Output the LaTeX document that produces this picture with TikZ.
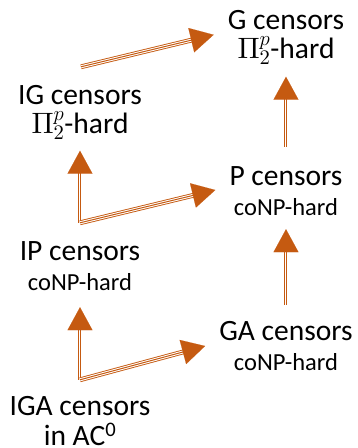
\documentclass[tikz,border=0pt]{standalone}
\usepackage[no-math]{fontspec}
\setmainfont{Carlito}
% let the upright math letters (\Pi) scale to any size
\DeclareFontShape{OT1}{cmr}{m}{n}{<->cmr10}{}
\usetikzlibrary{arrows.meta,calc}
\definecolor{ora}{HTML}{C55A11}
% smaller second line for the complexity class
\newcommand{\cls}[1]{{\fontsize{24.5}{30}\selectfont #1}}
% two-line label; baseline of the node is the first line
\newcommand{\lbltext}[3]{\begin{tabular}[t]{@{}c@{}}#1\\[#2]#3\end{tabular}}
% triple-stroke shaft plus a solid triangular head
\newcommand{\linkarrow}[2]{%
  \draw[shaft] (#1) -- ($(#2)!12pt!(#1)$);
  \draw[head] ($(#2)!24pt!(#1)$) -- (#2);}
\begin{document}
\begin{tikzpicture}[x=1pt,y=-1pt,
  lbl/.style={inner sep=0pt, anchor=base, font=\fontsize{29.5}{30}\selectfont},
  shaft/.style={draw=ora, line width=4.8pt,
    postaction={draw=white, line width=3pt},
    postaction={draw=ora, line width=1pt}},
  head/.style={draw=ora, fill=ora, line width=0.1pt,
    -{Triangle[length=23pt,width=25pt]}}]
\useasboundingbox (0,0) rectangle (358,448);

\node[lbl] (g)   at (286,29)  {\lbltext{G censors}{-1pt}{$\Pi_2^p$-hard}};
\node[lbl] (ig)  at (80,104)  {\lbltext{IG censors}{-1pt}{$\Pi_2^p$-hard}};
\node[lbl] (p)   at (286,185) {\lbltext{P censors}{0pt}{\cls{coNP-hard}}};
\node[lbl] (ip)  at (80,260)  {\lbltext{IP censors}{0pt}{\cls{coNP-hard}}};
\node[lbl] (ga)  at (286,340) {\lbltext{GA censors}{0pt}{\cls{coNP-hard}}};
\node[lbl] (iga) at (80,415)  {\lbltext{IGA censors}{-1pt}{in AC\textsuperscript{0}}};

% vertical links
\linkarrow{[yshift=17pt]p.north}{[yshift=-9pt]g.south}
\linkarrow{[yshift=14pt]ga.north}{[yshift=-5pt]p.south}
\linkarrow{[yshift=16pt]ip.north}{[yshift=-8pt]ig.south}
\linkarrow{[yshift=14pt]iga.north}{[yshift=-8pt]ip.south}
% diagonal links
\linkarrow{[xshift=1pt,yshift=16pt]ig.north}{[xshift=-14pt,yshift=3pt]g.west}
\linkarrow{[yshift=16pt]ip.north}{[xshift=-14pt,yshift=4pt]p.west}
\linkarrow{[yshift=14pt]iga.north}{[xshift=-14pt,yshift=3pt]ga.west}
\end{tikzpicture}
\end{document}
